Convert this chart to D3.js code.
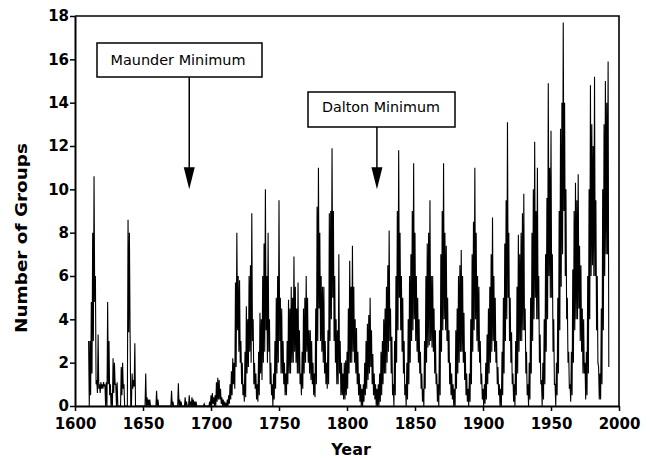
<!DOCTYPE html>
<html><head><meta charset="utf-8">
<script src="https://cdn.jsdelivr.net/npm/d3@7"></script>
<style>
body{margin:0;background:#fff}
svg{display:block}
text{font-family:"DejaVu Sans",sans-serif}
</style>
</head><body>
<svg id="chart" width="654" height="460"></svg>
<script>
// ---------------- data ----------------
const firstYear = 1610;
// yearly upper envelope (highest monthly value read) of number of sunspot groups
const groupsHigh = [
  3.0,3.0,4.8,8.0,10.6,6.0,1.2,3.3,1.0,1.1,      // 1610s
  1.0,1.1,1.0,1.1,4.8,3.0,1.0,0.6,2.2,2.0,       // 1620s
  1.0,1.1,0,0,1.8,2.0,1.0,0,0,8.6,               // 1630s
  8.0,0,1.5,1.2,2.9,0,0,0,0,0,                   // 1640s
  0,0,1.5,0.4,0.3,0.3,0,0,0,0,                   // 1650s
  0.7,0.3,0,0,0,0,0,0,0,0,                       // 1660s
  0,0.7,0.2,0,0,0,1.05,0.3,0.2,0,                // 1670s
  0,0.4,0.2,0,0.5,0.2,0.4,0.3,0.2,0.2,           // 1680s
  0,0,0,0,0,0.1,0,0,0,0.2,                       // 1690s
  0.5,0.6,0.4,0.5,1.1,1.3,1.2,0.8,0.4,0.3,       // 1700s
  0.2,0.1,0.3,0.5,1.0,1.6,2.2,2.0,5.7,8.0,       // 1710s
  6.0,5.8,3.0,2.0,1.0,2.5,4.6,4.0,6.0,6.5,       // 1720s
  8.9,4.0,2.0,1.5,1.0,2.5,4.3,4.0,6.0,7.5,       // 1730s
  10.0,6.0,8.0,4.0,2.0,1.0,1.5,3.0,5.0,6.0,      // 1740s
  9.5,5.0,4.5,3.0,2.0,1.5,3.0,4.9,4.5,5.5,       // 1750s
  5.0,6.9,5.5,4.5,5.7,3.5,1.5,2.5,4.5,5.0,       // 1760s
  6.0,5.0,3.5,3.5,3.0,2.0,1.5,4.5,9.2,11.0,      // 1770s
  8.0,6.0,5.5,5.5,3.0,2.0,3.5,8.9,9.0,11.9,      // 1780s
  9.0,6.0,4.0,3.5,7.0,3.0,2.0,1.5,2.0,2.1,       // 1790s
  2.5,4.5,6.7,5.5,7.4,5.5,4.0,3.6,2.5,1.5,       // 1800s
  1.0,0.8,1.0,2.0,3.0,3.8,4.2,5.0,3.5,2.4,       // 1810s
  1.5,1.0,0.8,1.0,1.5,2.5,3.0,4.0,4.5,5.5,       // 1820s
  6.5,8.1,4.5,3.2,1.0,3.0,6.0,9.0,11.8,8.0,      // 1830s
  6.0,5.0,3.0,1.0,2.0,4.0,6.0,7.0,9.0,11.2,      // 1840s
  8.0,6.0,5.0,4.0,2.5,1.5,0.8,3.0,6.0,7.5,       // 1850s
  8.0,9.5,6.0,6.0,4.5,3.5,1.5,1.0,3.5,7.0,       // 1860s
  9.0,11.2,8.0,7.4,5.0,3.5,2.0,1.5,1.0,0.8,      // 1870s
  3.5,4.5,6.0,6.5,7.2,6.0,4.3,2.5,1.5,0.8,       // 1880s
  1.5,4.0,7.0,8.5,11.0,8.0,6.0,5.5,3.0,1.5,      // 1890s
  0.8,1.0,2.0,3.3,4.5,5.5,7.0,8.7,6.0,5.0,       // 1900s
  3.0,1.8,1.0,0.8,2.5,5.0,7.5,9.5,13.1,8.0,      // 1910s
  5.0,3.4,1.5,1.0,3.0,5.5,7.9,7.0,8.0,8.9,       // 1920s
  9.8,4.5,2.5,1.0,2.0,5.0,8.0,10.0,12.2,9.0,     // 1930s
  11.0,6.0,3.3,1.2,2.0,4.0,7.0,9.6,14.9,11.0,    // 1940s
  12.7,7.0,4.0,1.0,2.0,5.0,9.0,12.8,14.0,17.7,   // 1950s
  14.0,10.0,5.0,2.5,1.0,2.5,6.3,9.0,10.3,9.5,    // 1960s
  10.7,7.4,6.5,4.5,4.0,2.0,2.5,6.0,10.0,14.8,    // 1970s
  13.0,12.0,15.2,9.5,6.0,1.8,1.5,4.5,10.0,13.0,  // 1980s
  15.0,14.0,15.9                                 // 1990s
];
// yearly lower envelope (lowest monthly value read)
const groupsLow = [
  0.0,0.5,1.5,3.0,4.8,1.0,0.6,0.8,0.6,0.8,
  0.8,0.9,0,0,1.0,0.5,0,0,0.6,1.0,
  0,0,0,0,0.5,0.8,0,0,0,3.4,
  3.4,0,0.8,0.9,0,0,0,0,0,0,
  0,0,0,0,0,0,0,0,0,0,
  0,0,0,0,0,0,0,0,0,0,
  0,0,0,0,0,0,0,0,0,0,
  0,0,0,0,0,0,0,0,0,0,
  0,0,0,0,0,0,0,0,0,0,
  0,0.1,0,0,0.2,0.3,0.3,0.1,0,0,
  0,0,0,0.1,0.3,0.5,1.0,0.8,1.8,3.5,
  2.5,2.0,1.0,0.5,0.2,0.4,1.5,1.8,2.5,2.0,
  3.0,1.0,0.8,0.3,0.2,0.5,1.5,1.2,2.0,2.5,
  3.5,2.0,2.5,1.0,0.5,0.0,0.3,0.8,1.5,2.0,
  3.0,1.5,1.5,1.0,0.5,0.5,1.0,1.5,1.5,2.0,
  2.0,2.5,2.0,1.5,1.5,1.0,0.5,0.8,1.5,2.0,
  2.5,2.0,1.5,1.2,1.0,0.5,0.4,1.0,3.0,4.5,
  3.0,2.5,2.0,1.5,1.0,0.8,1.0,3.0,4.0,5.0,
  3.0,2.0,1.0,1.0,1.5,0.5,0.5,0.3,0.3,0.5,
  0.8,1.5,2.0,2.0,2.5,2.0,1.5,1.0,0.5,0.2,
  0,0,0.2,0.5,0.8,1.2,1.5,1.8,1.0,0.5,
  0.3,0,0,0,0.2,0.5,1.0,1.5,1.5,2.0,
  2.5,3.0,1.5,0.5,0,0.5,2.0,3.5,5.0,3.5,
  2.5,1.5,0.5,0,0.3,1.0,2.0,3.0,3.5,4.0,
  3.0,2.5,2.0,1.5,0.8,0.2,0,0.8,2.0,2.7,
  2.8,3.0,2.7,2.5,1.5,1.0,0.2,0,0.5,2.5,
  3.5,4.0,3.5,3.0,2.0,1.0,0.5,0.3,0,0,
  0.8,1.5,2.0,2.5,2.5,2.0,1.2,0.5,0.2,0,
  0.2,1.0,2.5,3.5,4.0,3.0,2.5,2.0,1.0,0.3,
  0,0.1,0.3,1.0,1.5,2.0,2.5,3.0,2.5,2.0,
  1.0,0.5,0,0,0.5,1.5,3.0,4.0,5.0,3.0,
  2.0,1.0,0.2,0,0.5,1.5,2.5,3.0,3.0,3.5,
  3.5,1.5,0.5,0,0.3,1.5,3.0,4.0,5.0,4.0,
  4.0,2.0,1.0,0,0.3,1.0,2.5,4.0,6.0,5.0,
  5.0,2.5,1.0,0,0.5,1.5,3.5,5.5,7.0,9.0,
  6.0,4.0,2.0,0.8,0.2,0.5,2.0,3.5,4.0,4.0,
  4.5,3.0,2.5,1.5,1.5,0.3,0.5,1.5,4.0,6.0,
  6.5,6.0,6.0,3.5,2.0,0.3,0.3,1.0,3.5,6.0,
  7.0,7.0,1.8
];
const yTicks = [0,2,4,6,8,10,12,14,16,18];
const xTicks = [1600,1650,1700,1750,1800,1850,1900,1950,2000];
const minimaLabels = ["Maunder Minimum","Dalton Minimum"];
const minimaYears  = [1684, 1822];
const minimaLevels = [10, 10];

// ---------------- chart ----------------
const svg = d3.select("#chart");
const x = d3.scaleLinear().domain([1600,2000]).range([75,619]);
const y = d3.scaleLinear().domain([0,18]).range([406,16]);

const points = [];
groupsHigh.forEach((h,i)=>{
  const yr = firstYear + i;
  points.push({t: yr, v: h});
  points.push({t: yr + 0.5, v: groupsLow[i]});
});

const line = d3.line().x(d=>x(d.t)).y(d=>y(d.v));
svg.append("path").datum(points)
  .attr("d", line).attr("fill","none")
  .attr("stroke","#000").attr("stroke-width",1.1)
  .attr("stroke-linejoin","miter");

// frame (top and right)
svg.append("path")
  .attr("d", `M${x(1600)},${y(18)}H${x(2000)}V${y(0)}`)
  .attr("fill","none").attr("stroke","#000").attr("stroke-width",1.6);

// axes
const xAxis = svg.append("g").attr("transform",`translate(0,${y(0)})`)
  .call(d3.axisBottom(x).tickValues(xTicks).tickFormat(d3.format("d"))
        .tickSize(5).tickSizeOuter(0).tickPadding(7));
const yAxis = svg.append("g").attr("transform",`translate(${x(1600)},0)`)
  .call(d3.axisLeft(y).tickValues(yTicks).tickSize(5).tickSizeOuter(0).tickPadding(1));
[xAxis,yAxis].forEach(g=>{
  g.select(".domain").attr("stroke-width",2);
  g.selectAll(".tick line").attr("stroke-width",1.5);
  g.selectAll(".tick text").attr("font-family","DejaVu Sans, sans-serif")
    .attr("font-size",15).attr("font-weight","bold").attr("fill","#000");
});

// axis titles
svg.append("text").attr("x",351).attr("y",455)
  .attr("text-anchor","middle").attr("font-size",16).attr("font-weight","bold")
  .text("Year");
svg.append("text").attr("transform","translate(26.5,238) rotate(-90)")
  .attr("text-anchor","middle").attr("font-size",16).attr("font-weight","bold")
  .attr("textLength",190).attr("lengthAdjust","spacingAndGlyphs")
  .text("Number of Groups");

// annotations: box + arrow
const boxes = [
  {x0:97, x1:262, y0:43, y1:77, tx:178, ty:65, tl:135},
  {x0:308, x1:455, y0:92, y1:127, tx:381, ty:112, tl:118}
];
minimaLabels.forEach((lab,i)=>{
  const b = boxes[i];
  const ax = x(minimaYears[i]), tipY = y(minimaLevels[i]);
  svg.append("rect").attr("x",b.x0).attr("y",b.y0)
    .attr("width",b.x1-b.x0).attr("height",b.y1-b.y0)
    .attr("fill","#fff").attr("stroke","#000").attr("stroke-width",1.5);
  svg.append("text").attr("x",b.tx).attr("y",b.ty).attr("text-anchor","middle")
    .attr("font-size",14.4).attr("textLength",b.tl).attr("lengthAdjust","spacingAndGlyphs")
    .text(lab);
  svg.append("line").attr("x1",ax).attr("x2",ax).attr("y1",b.y1).attr("y2",tipY-18)
    .attr("stroke","#000").attr("stroke-width",1.5);
  svg.append("path")
    .attr("d",`M${ax-5.5},${tipY-22}L${ax+5.5},${tipY-22}L${ax},${tipY}Z`)
    .attr("fill","#000");
});
</script>
</body></html>
